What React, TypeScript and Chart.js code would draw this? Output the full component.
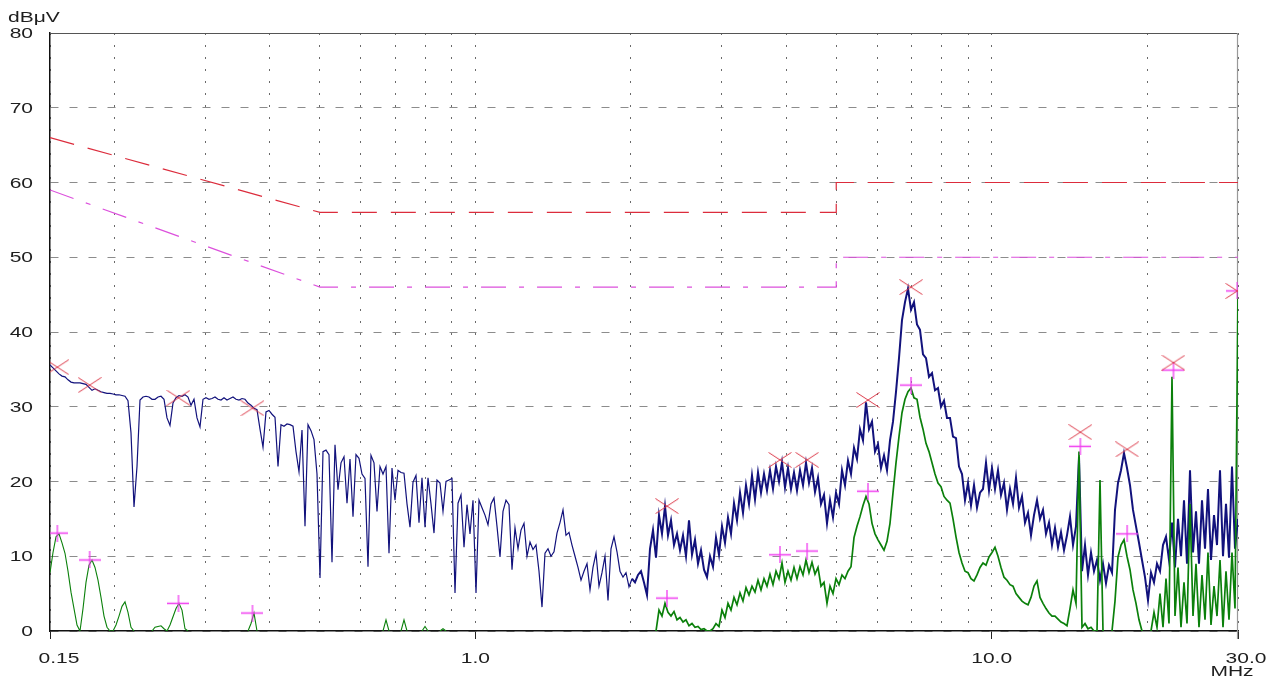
import { useEffect, useRef } from 'react';
import { Chart, registerables } from 'chart.js';

Chart.register(...registerables);

// Receiver sweep (log stepped) from 0.15 MHz to 30 MHz
const SWEEP_START_MHZ = 0.15;
const SWEEP_STOP_MHZ = 30;

// Peak (QP scan) trace, dBµV, one value per sweep step
const PEAK_TRACE: number[] = [
  35.6, 35.2, 34.8, 34.4, 34.1, 34.0, 33.6, 33.3, 33.2, 33.2,
  33.2, 33.1, 33.0, 32.6, 32.2, 32.4, 32.2, 32.0, 31.9, 31.8,
  31.8, 31.7, 31.6, 31.6, 31.5, 31.4, 30.8, 26.5, 16.6, 22.0,
  30.9, 31.3, 31.4, 31.3, 31.0, 31.0, 31.3, 31.4, 31.0, 28.5,
  27.5, 30.5, 31.2, 31.5, 31.4, 31.6, 31.3, 30.2, 31.0, 28.5,
  27.3, 31.0, 31.2, 31.0, 31.1, 31.3, 31.0, 30.9, 31.2, 30.9,
  31.1, 31.3, 31.0, 30.9, 31.1, 31.0, 30.5, 30.2, 29.8, 29.6,
  27.0, 24.6, 29.3, 29.5, 29.0, 28.6, 22.0, 27.6, 27.4, 27.7,
  27.6, 27.4, 24.0, 21.3, 26.9, 14.0, 27.6, 26.8, 25.6, 21.0,
  7.1, 24.0, 24.2, 23.6, 9.2, 24.9, 18.9, 22.5, 23.3, 17.1,
  23.0, 15.3, 23.6, 23.1, 21.0, 20.4, 8.6, 23.5, 22.5, 16.0,
  22.0, 21.0, 22.0, 10.4, 21.8, 17.5, 21.5, 21.2, 21.1, 17.0,
  13.9, 19.9, 20.8, 14.5, 20.5, 13.9, 20.5, 17.0, 13.1, 20.2,
  19.8, 16.0, 20.0, 20.2, 20.4, 5.1, 17.1, 18.2, 11.2, 16.9,
  13.0, 17.5, 5.1, 17.5, 16.5, 15.5, 14.2, 17.0, 17.8, 14.0,
  9.9, 16.0, 17.5, 16.9, 8.2, 13.8, 11.0, 13.5, 14.4, 10.0,
  11.9, 10.9, 11.5, 8.0, 3.2, 10.4, 11.0, 10.0, 10.6, 13.1,
  14.5, 16.2, 12.8, 13.2, 11.5, 10.0, 8.5, 6.8, 8.0, 9.0,
  5.5, 8.5, 10.4, 6.0, 7.8, 10.0, 4.1, 11.0, 12.6, 10.6,
  8.0, 7.2, 7.8, 5.9, 7.0, 6.5, 7.5, 8.0, 6.5, 4.8,
  11.0, 13.5, 9.8, 15.5, 13.0, 16.7, 12.8, 14.8, 11.5, 13.0,
  10.8, 12.8, 10.0, 14.8, 10.2, 12.2, 9.0, 10.8, 8.2, 7.2,
  10.0, 8.6, 12.5, 10.2, 14.0, 11.8, 15.2, 13.0, 17.1, 14.8,
  18.5, 15.8, 19.5, 17.0, 20.8, 17.6, 21.2, 18.5, 21.0, 18.8,
  21.5, 19.0, 22.0, 20.0, 22.6, 19.2, 21.8, 19.0, 21.2, 18.8,
  21.5, 19.5, 22.5, 19.8, 21.8, 18.6, 20.5, 17.0, 18.2, 14.4,
  17.5, 15.2, 18.5, 17.0, 21.5, 19.5, 22.8, 21.0, 24.5, 23.0,
  27.0, 25.5, 30.6, 27.0, 28.0, 24.0, 25.0, 21.8, 23.5, 21.5,
  25.5, 28.0, 32.0, 36.5, 41.6, 44.0, 45.8, 43.0, 44.0, 41.0,
  40.3, 37.0, 36.5, 34.0, 34.5, 32.2, 32.5, 30.0, 30.8, 28.5,
  28.5, 26.0, 25.8, 22.0, 21.0, 17.5, 19.8, 16.8, 19.5, 16.5,
  18.5, 19.0, 22.5, 18.8, 21.8, 19.0, 21.5, 18.2, 19.8, 16.2,
  19.0, 17.0, 20.5, 16.5, 18.0, 14.5, 15.8, 12.8, 15.5, 17.5,
  15.0, 16.2, 13.0, 14.5, 11.5, 13.8, 11.2, 13.2, 10.8, 12.8,
  15.3, 11.5, 14.0, 23.3, 8.0, 11.5, 7.5, 10.5, 8.0, 9.5,
  6.8, 9.0, 6.4, 8.8, 7.8, 16.2, 19.8, 21.5, 23.8, 21.8,
  19.5, 16.2, 14.0, 11.8, 9.5, 7.2, 4.1, 7.8, 6.5, 9.0,
  8.0, 11.5, 12.6, 9.5, 14.5, 8.5, 15.0, 10.0, 17.5, 9.0,
  21.5, 10.5, 16.0, 9.0, 17.5, 11.0, 19.0, 9.5, 15.5, 11.5,
  21.5, 10.0, 17.0, 9.8, 22.0, 11.0, 15.0,
];

// Average trace, dBµV (null = below the 0 dBµV floor of the plot)
const AVG_TRACE: (number | null)[] = [
  7.8, 10.5, 12.6, 13.0, 11.8, 10.4, 8.0, 5.2, 3.0, 0.8,
  0, 3.0, 6.5, 8.8, 9.5, 8.5, 6.8, 4.5, 2.0, 0.5,
  0, 0, 0.8, 2.0, 3.3, 3.9, 2.5, 0.5, 0, null,
  null, null, null, null, 0, 0.5, 0.6, 0.7, 0.3, 0,
  0.8, 1.9, 3.0, 3.7, 2.8, 0.3, 0, null, null, null,
  null, null, null, null, null, null, null, null, null, null,
  null, null, null, null, null, null, 0, 1.0, 2.4, 0,
  null, null, null, null, null, null, null, null, null, null,
  null, null, null, null, null, null, null, null, null, null,
  null, null, null, null, null, null, null, null, null, null,
  null, null, null, null, null, null, null, null, null, null,
  null, 0, 1.5, 0, null, null, null, 0, 1.5, 0,
  null, null, null, null, 0, 0.6, 0, null, null, null,
  0, 0.3, 0, null, null, null, null, null, null, null,
  null, null, null, null, null, null, null, null, null, null,
  null, null, null, null, null, null, null, null, null, null,
  null, null, null, null, null, null, null, null, null, null,
  null, null, null, null, null, null, null, null, null, null,
  null, null, null, null, null, null, null, null, null, null,
  null, null, null, null, null, null, null, null, null, null,
  null, null, 0, 2.8, 2.0, 3.7, 2.5, 2.0, 2.6, 1.5,
  1.8, 1.2, 1.5, 0.7, 1.0, 0.5, 0.6, 0.2, 0.3, 0,
  0, 0.3, 1.0, 0.6, 2.8, 1.8, 3.7, 2.8, 4.5, 3.5,
  5.1, 4.0, 5.8, 4.8, 6.0, 5.2, 6.8, 5.5, 7.0, 6.0,
  7.6, 6.2, 8.0, 7.0, 9.1, 6.5, 8.0, 6.8, 8.5, 7.0,
  8.6, 7.5, 9.5, 7.8, 9.2, 7.6, 8.5, 6.0, 6.5, 3.7,
  6.0, 5.0, 7.0, 6.2, 7.5, 7.0, 8.0, 8.6, 12.5, 14.0,
  15.3, 16.8, 18.0, 17.0, 14.4, 13.0, 12.2, 11.5, 10.8, 12.0,
  14.4, 18.5, 22.5, 26.0, 29.2, 31.0, 32.0, 32.5, 31.2, 31.0,
  28.6, 27.0, 25.1, 24.0, 22.5, 21.0, 19.8, 19.3, 18.0, 17.5,
  17.1, 15.0, 12.6, 10.5, 9.1, 8.0, 7.8, 7.0, 6.7, 7.5,
  8.5, 9.1, 8.8, 9.9, 10.5, 11.2, 10.0, 8.5, 7.2, 6.8,
  6.2, 6.0, 5.0, 4.5, 4.0, 3.7, 3.5, 4.5, 6.0, 6.7,
  4.5, 3.7, 3.0, 2.4, 2.0, 2.0, 1.6, 1.2, 1.0, 0.7,
  3.0, 5.5, 3.7, 24.0, 0.5, 1.0, 0.3, 0.5, 0, 0,
  20.2, 0, null, null, 0, 4.0, 9.9, 11.5, 12.2, 10.0,
  8.2, 5.5, 3.7, 1.5, 0, null, null, 0, 2.5, 0.5,
  5.0, 0.5, 7.0, 1.0, 34.0, 2.0, 8.5, 0.5, 6.5, 1.0,
  17.0, 2.0, 9.0, 0.5, 7.5, 1.5, 10.5, 0.8, 6.0, 2.0,
  9.5, 0.5, 8.0, 1.5, 10.5, 3.0, 45.5,
];

// Limit lines (EN 55022 class B style)
const QP_LIMIT_FREQ = [0.15, 0.5, 5, 5, 30];
const QP_LIMIT_DB = [66, 56, 56, 60, 60];
const AV_LIMIT_FREQ = [0.15, 0.5, 5, 5, 30];
const AV_LIMIT_DB = [59, 46, 46, 50, 50];

// Final measurement markers
const MARK_FREQ = [0.155, 0.179, 0.266, 0.37, 2.35, 3.89, 4.39, 5.76, 6.98, 14.85, 18.3, 22.5, 29.9];
const MARK_QP = [35.3, 32.9, 31.2, 29.8, 16.7, 22.9, 22.9, 30.9, 46.0, 26.6, 24.3, 35.9, 45.5];
const MARK_AV = [13.1, 9.5, 3.7, 2.4, 4.4, 10.2, 10.7, 18.7, 32.9, 24.7, 13.0, 34.9, 45.5];

// Axes
const X_GRID = [0.15, 0.2, 0.3, 0.4, 0.5, 0.6, 0.7, 0.8, 0.9, 1, 2, 3, 4, 5, 6, 7, 8, 9, 10, 20, 30];
const X_LABEL_VALUES = [0.15, 1, 10, 30];
const X_LABEL_TEXT = ['0.15', '1.0', '10.0', '30.0'];
const Y_TICKS = [0, 10, 20, 30, 40, 50, 60, 70, 80];
const X_UNIT = 'MHz';
const Y_UNIT = 'dBμV';

function makeCrossRot(): HTMLCanvasElement {
  const c = document.createElement('canvas');
  c.width = 24;
  c.height = 16;
  const g = c.getContext('2d')!;
  g.strokeStyle = '#dc3a4a';
  g.lineWidth = 1;
  g.beginPath();
  g.moveTo(0.5, 0.5);
  g.lineTo(23.5, 15.5);
  g.moveTo(23.5, 0.5);
  g.lineTo(0.5, 15.5);
  g.stroke();
  return c;
}

function makePlus(): HTMLCanvasElement {
  const c = document.createElement('canvas');
  c.width = 22;
  c.height = 17;
  const g = c.getContext('2d')!;
  g.strokeStyle = '#f03cf0';
  g.lineWidth = 1.3;
  g.beginPath();
  g.moveTo(0, 8.5);
  g.lineTo(22, 8.5);
  g.moveTo(11, 0);
  g.lineTo(11, 17);
  g.stroke();
  return c;
}

const TEXT_STRETCH = 1.5;

const framePlugin = {
  id: 'frameAndLabels',
  beforeDatasetsDraw(chart: any) {
    const { ctx, chartArea } = chart;
    ctx.save();
    ctx.lineWidth = 1.2;
    ctx.strokeStyle = '#555';
    ctx.beginPath();
    ctx.moveTo(chartArea.left, chartArea.top + 0.5);
    ctx.lineTo(chartArea.right, chartArea.top + 0.5);
    ctx.stroke();
    ctx.strokeStyle = '#999';
    ctx.beginPath();
    ctx.moveTo(chartArea.right - 0.5, chartArea.top);
    ctx.lineTo(chartArea.right - 0.5, chartArea.bottom + 8);
    ctx.stroke();
    ctx.restore();
  },
  afterDraw(chart: any) {
    const { ctx, chartArea } = chart;
    const xs = chart.scales.x;
    const ys = chart.scales.y;
    ctx.save();
    ctx.font = '14px "Liberation Sans", Arial, sans-serif';
    ctx.fillStyle = '#1e1e1e';
    const draw = (text: string, px: number, py: number, align: CanvasTextAlign) => {
      ctx.save();
      ctx.translate(px, py);
      ctx.scale(TEXT_STRETCH, 1);
      ctx.textAlign = align;
      ctx.textBaseline = 'alphabetic';
      ctx.fillText(text, 0, 0);
      ctx.restore();
    };
    Y_TICKS.forEach((v) => draw(String(v), chartArea.left - 17, ys.getPixelForValue(v) + 5, 'right'));
    const shifts = [9, 0, 0, 8];
    X_LABEL_VALUES.forEach((v, i) =>
      draw(X_LABEL_TEXT[i], xs.getPixelForValue(v) + shifts[i], chartArea.bottom + 32, 'center')
    );
    draw(Y_UNIT, 8, 22, 'left');
    draw(X_UNIT, chartArea.right - 6, chartArea.bottom + 45, 'center');
    ctx.restore();
  },
};

const denseWidth = (thin: number, thick: number) => (c: any) =>
  c.p0 && c.p0.parsed && c.p0.parsed.x >= 2 ? thick : thin;

export default function App() {
  const ref = useRef<HTMLCanvasElement>(null);

  useEffect(() => {
    document.body.style.margin = '0';
    const canvas = ref.current!;
    const n = PEAK_TRACE.length;
    const sweep = PEAK_TRACE.map((_, i) =>
      SWEEP_START_MHZ * Math.pow(SWEEP_STOP_MHZ / SWEEP_START_MHZ, i / (n - 1))
    );
    const crossImg = makeCrossRot();
    const plusImg = makePlus();

    const chart = new Chart(canvas, {
      type: 'line',
      data: {
        datasets: [
          {
            label: 'QP markers',
            data: MARK_FREQ.map((f, i) => ({ x: f, y: MARK_QP[i] })),
            showLine: false,
            pointStyle: crossImg as any,
            pointRadius: 8,
            clip: 0 as any,
          },
          {
            label: 'AV markers',
            data: MARK_FREQ.map((f, i) => ({ x: f, y: MARK_AV[i] })),
            showLine: false,
            pointStyle: plusImg as any,
            pointRadius: 8,
            clip: 0 as any,
          },
          {
            label: 'Average',
            data: sweep.map((f, i) => ({ x: f, y: AVG_TRACE[i] })) as any,
            borderColor: '#0b800b',
            borderWidth: 1.2,
            segment: { borderWidth: denseWidth(1.1, 1.7) } as any,
            pointRadius: 0,
            tension: 0,
            spanGaps: false,
          },
          {
            label: 'Peak',
            data: sweep.map((f, i) => ({ x: f, y: PEAK_TRACE[i] })),
            borderColor: '#12127c',
            borderWidth: 1.3,
            segment: { borderWidth: denseWidth(1.2, 2.0) } as any,
            pointRadius: 0,
            tension: 0,
          },
          {
            label: 'QP limit',
            data: QP_LIMIT_FREQ.map((f, i) => ({ x: f, y: QP_LIMIT_DB[i] })),
            borderColor: '#dc2c3c',
            borderWidth: 1.2,
            borderDash: [25, 14],
            pointRadius: 0,
            tension: 0,
          },
          {
            label: 'AV limit',
            data: AV_LIMIT_FREQ.map((f, i) => ({ x: f, y: AV_LIMIT_DB[i] })),
            borderColor: '#dc50dc',
            borderWidth: 1.2,
            borderDash: [25, 13, 5, 13],
            pointRadius: 0,
            tension: 0,
          },
        ],
      },
      options: {
        responsive: false,
        maintainAspectRatio: false,
        animation: false,
        devicePixelRatio: 1,
        events: [],
        layout: { padding: { top: 33, right: 45, left: 0, bottom: 0 } },
        plugins: { legend: { display: false }, tooltip: { enabled: false } },
        scales: {
          x: {
            type: 'logarithmic',
            min: SWEEP_START_MHZ,
            max: SWEEP_STOP_MHZ,
            afterBuildTicks: (s: any) => {
              s.ticks = X_GRID.map((v) => ({ value: v }));
            },
            afterFit: (s: any) => {
              s.height = 47;
            },
            ticks: { display: false },
            grid: {
              color: '#6a6a6a',
              lineWidth: 1,
              drawTicks: true,
              tickLength: 8,
              tickWidth: 1,
              tickColor: (c: any) =>
                c.tick && X_LABEL_VALUES.includes(c.tick.value) ? '#222' : 'rgba(0,0,0,0)',
              tickBorderDash: [],
            },
            border: { display: true, color: '#111', width: 1.5, dash: [2, 10] },
          },
          y: {
            min: 0,
            max: 80,
            afterBuildTicks: (s: any) => {
              s.ticks = Y_TICKS.map((v) => ({ value: v }));
            },
            afterFit: (s: any) => {
              s.width = 50;
            },
            ticks: { display: false },
            grid: { color: '#8c8c8c', lineWidth: 1, drawTicks: false },
            border: { display: true, color: '#111', width: 1.5, dash: [8, 11] },
          },
        },
      },
      plugins: [framePlugin],
    });
    return () => chart.destroy();
  }, []);

  return (
    <div style={{ position: 'fixed', left: 0, top: 0, width: 1283, height: 678, background: '#fff' }}>
      <canvas ref={ref} width={1283} height={678} style={{ display: 'block', width: 1283, height: 678 }} />
    </div>
  );
}
